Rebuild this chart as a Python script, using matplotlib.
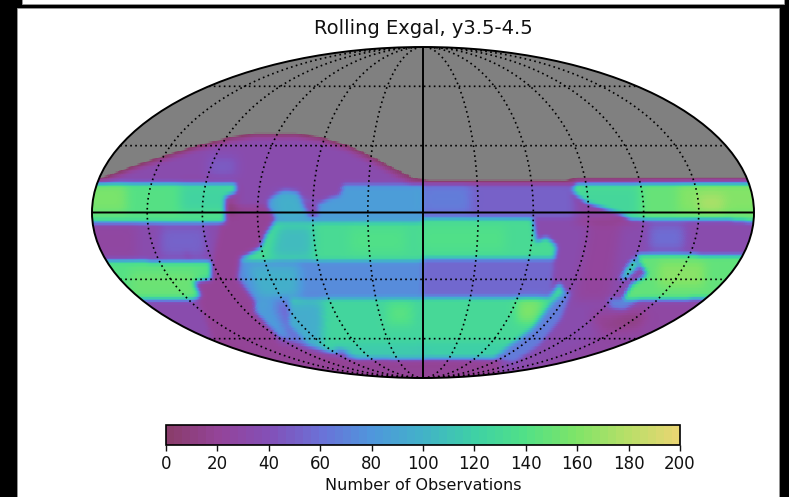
#!/usr/bin/env python3
"""Rolling Exgal y3.5-4.5 sky map, Mollweide, number of observations."""

import matplotlib
matplotlib.use('Agg')

import numpy as np
import matplotlib.pyplot as plt
from matplotlib.cm import ScalarMappable
from matplotlib.colors import LinearSegmentedColormap, Normalize
from matplotlib.patches import Rectangle
from matplotlib.path import Path

W, H = 789, 497

TITLE = "Rolling Exgal, y3.5-4.5"
CBAR_LABEL = "Number of Observations"
CBAR_TICKS = [0, 20, 40, 60, 80, 100, 120, 140, 160, 180, 200]
MERIDIANS_DEG = [-150, -120, -90, -60, -30, 30, 60, 90, 120, 150]
PARALLELS_DEG = [-60, -30, 30, 60]

# colour of the bar at given counts
CMAP_COUNTS = [0, 20, 40, 60, 80, 100, 120, 140, 160, 180, 200]
CMAP_COLORS = ["#8a3d6c", "#94449a", "#8350b8", "#6a72d8", "#4f97dc", "#42b2c8",
               "#3ed0a6", "#50e088", "#7ee468", "#b6df68", "#e8d672"]
NO_DATA_VALUE = -20
NO_DATA_COLOR = "#808080"

# Footprints on the map plane (map px, ellipse centre 423,212.5), painted in order
RIM = [(85, 184), (100, 178), (130, 167), (160, 157), (195, 146), (230, 137), (257, 133),
       (293, 133), (320, 137), (347, 145), (373, 157), (397, 170), (413, 178), (425, 180),
       (500, 180), (565, 181), (575, 178), (760, 177), (760, 382), (85, 382)]
INTERIOR = [(85, 192), (130, 172), (160, 162), (195, 151), (230, 142), (257, 138), (293, 138),
            (320, 142), (345, 150), (370, 162), (393, 175), (410, 184), (425, 185), (500, 185),
            (570, 185), (760, 182), (760, 382), (85, 382)]
LEFT_EDGE_MAROON = [(224, 205), (268, 205), (275, 218), (262, 250), (255, 300), (280, 345), (345, 360),
                    (500, 360), (500, 382), (300, 382), (215, 345), (198, 302), (195, 285), (212, 262)]
LEFT_NOTCH = [(183, 250), (188, 250), (192, 262), (186, 262)]
LEFT_TOP_BAND = [(85, 183), (235, 183), (235, 192), (225, 197), (224, 222), (85, 222)]
LEFT_LOW_BAND = [(85, 260), (210, 262), (210, 279), (193, 282), (200, 296), (193, 299), (85, 299)]

CENTRE_LEFT = [(343, 184), (425, 184), (425, 360), (357, 358), (343, 355), (307, 347), (280, 337),
               (267, 325), (255, 312), (255, 302), (237, 278), (240, 258), (260, 248), (265, 235),
               (275, 218), (267, 207), (268, 200), (275, 195), (283, 190), (297, 192), (300, 198),
               (320, 203), (330, 198), (340, 195)]
CENTRE_HOLE = [(300, 199), (318, 203), (317, 216), (308, 216)]
BAND_A = [(275, 222), (425, 222), (425, 260), (240, 260), (260, 248), (265, 235)]
GAP_LEFT = [(240, 260), (425, 260), (425, 298), (255, 302), (237, 278)]
BAND_B = [(290, 298), (425, 298), (425, 358), (357, 358), (343, 355), (310, 345), (290, 325)]
BOTTOM_SLIVER = [(335, 348), (350, 352), (343, 356)]

RIGHT_TOP = [(423, 184), (572, 184), (572, 195), (585, 205), (620, 218), (423, 218)]
RIGHT_GREEN_TOP = [(577, 183), (760, 183), (760, 222), (720, 219), (633, 220), (623, 215),
                   (600, 207), (587, 203), (578, 196), (573, 190)]
RIGHT_LOW_BAND = [(637, 254), (760, 256), (760, 298), (623, 300), (632, 285), (648, 274), (640, 262)]
RIGHT_LOW_SLIVER = [(634, 258), (640, 265), (628, 277), (621, 280), (627, 268)]
RIGHT_BLUE_KNOT = [(608, 298), (640, 300), (625, 310), (612, 308)]
FRINGE = [(555, 290), (572, 292), (562, 318), (540, 345), (515, 362), (495, 358)]
BAND_C = [(423, 218), (533, 218), (537, 242), (547, 237), (557, 247), (555, 258), (423, 258)]
GAP_RIGHT = [(423, 258), (555, 258), (552, 297), (423, 297)]
BAND_D = [(423, 297), (550, 298), (560, 283), (565, 292), (553, 302), (533, 328), (507, 348),
          (495, 358), (423, 358)]

REGIONS = [
    (RIM, 12), (INTERIOR, 33), (LEFT_EDGE_MAROON, 19), (LEFT_NOTCH, 28),
    (LEFT_TOP_BAND, 142), (LEFT_LOW_BAND, 142),
    (CENTRE_LEFT, 84), (CENTRE_HOLE, 35),
    (BAND_A, 132), (GAP_LEFT, 74), (BAND_B, 126), (BOTTOM_SLIVER, 60),
    (RIGHT_TOP, 50), (RIGHT_GREEN_TOP, 150),
    (RIGHT_LOW_BAND, 148), (RIGHT_LOW_SLIVER, 122), (RIGHT_BLUE_KNOT, 70),
    (FRINGE, 66), (GAP_RIGHT, 54), (BAND_C, 132), (BAND_D, 130),
]

# Softer changes of the count inside the footprints
NORTH_SPOT = [(208, 156), (236, 156), (236, 176), (208, 176)]
LOWER_LEFT = [(150, 335), (215, 345), (300, 382), (240, 382)]
MID_LEFT_FAR = [(85, 224), (135, 224), (135, 258), (85, 258)]
MID_LEFT_NEAR = [(160, 226), (205, 226), (205, 256), (160, 256)]
LEFT_TOP_FAR = [(85, 183), (125, 183), (125, 212), (85, 212)]
LEFT_TOP_NEAR = [(180, 183), (235, 183), (235, 212), (180, 212)]
LEFT_LOW_GREEN = [(130, 270), (195, 270), (195, 296), (130, 296)]
CENTRE_TEAL = [(272, 192), (298, 192), (310, 222), (278, 222)]
BAND_A_LEFT = [(278, 224), (312, 224), (312, 258), (270, 258)]
BAND_A_LIGHT = [(350, 228), (405, 228), (405, 252), (350, 252)]
GAP_TEAL = [(246, 264), (298, 264), (298, 298), (258, 298)]
BAND_B_LEFT = [(272, 300), (322, 300), (322, 350), (290, 340)]
BAND_B_SPOT = [(388, 302), (412, 302), (412, 324), (388, 324)]
BAND_B_LOWER = [(330, 344), (425, 344), (425, 358), (330, 358)]
RIGHT_TOP_BLUE = [(423, 184), (470, 184), (470, 213), (423, 213)]
RIGHT_TOP_NEAR = [(577, 183), (640, 183), (640, 222), (577, 222)]
RIGHT_TOP_FAR = [(680, 183), (760, 183), (760, 212), (680, 212)]
RIGHT_TOP_SPOT = [(700, 194), (724, 194), (724, 212), (700, 212)]
RIGHT_LOW_SPOT = [(660, 262), (705, 262), (705, 286), (660, 286)]
RIGHT_MID_SPOT = [(650, 224), (685, 224), (685, 250), (650, 250)]
RIGHT_MID_MAROON = [(590, 222), (622, 222), (610, 300), (575, 300)]
RIGHT_LOW_MAROON = [(590, 312), (650, 312), (640, 328), (600, 332)]
RIGHT_RIM = [(640, 302), (760, 302), (640, 360), (560, 382), (500, 382), (580, 350)]
BAND_C_LIGHT = [(423, 226), (505, 226), (505, 250), (423, 250)]
BAND_D_SPOT = [(518, 298), (546, 298), (536, 322), (518, 322)]
BAND_D_LOWER = [(423, 342), (515, 342), (495, 358), (423, 358)]

TINTS = [
    (NORTH_SPOT, 14), (LOWER_LEFT, -12), (MID_LEFT_FAR, -8), (MID_LEFT_NEAR, 18),
    (LEFT_TOP_FAR, 16), (LEFT_TOP_NEAR, -18), (LEFT_LOW_GREEN, 10),
    (CENTRE_TEAL, 14), (BAND_A_LEFT, -26), (BAND_A_LIGHT, 8), (GAP_TEAL, 24),
    (BAND_B_LEFT, -30), (BAND_B_SPOT, 18), (BAND_B_LOWER, -12),
    (RIGHT_TOP_BLUE, 16), (RIGHT_TOP_NEAR, -22), (RIGHT_TOP_FAR, 12), (RIGHT_TOP_SPOT, 14),
    (RIGHT_LOW_SPOT, 16), (RIGHT_MID_SPOT, 24), (RIGHT_MID_MAROON, -11),
    (RIGHT_LOW_MAROON, -16), (RIGHT_RIM, -7), (BAND_C_LIGHT, 8),
    (BAND_D_SPOT, 30), (BAND_D_LOWER, -12),
]


def blur(img, sigma):
    half = int(3 * sigma)
    kernel = np.exp(-0.5 * (np.arange(-half, half + 1) / sigma) ** 2)
    kernel /= kernel.sum()
    img = np.apply_along_axis(lambda r: np.convolve(r, kernel, mode="same"), 0, img)
    return np.apply_along_axis(lambda r: np.convolve(r, kernel, mode="same"), 1, img)


def paint_sky():
    xx, yy = np.meshgrid(np.arange(W), np.arange(H))
    pts = np.c_[xx.ravel(), yy.ravel()]
    sky = np.full(xx.shape, float(NO_DATA_VALUE))
    for outline, value in REGIONS:
        sky[Path(outline).contains_points(pts).reshape(xx.shape)] = value
    tint = np.zeros(xx.shape)
    for outline, delta in TINTS:
        tint[Path(outline).contains_points(pts).reshape(xx.shape)] += delta
    # the reference is soft at footprint edges
    sky = blur(sky, 2.4)
    tint = blur(tint, 5.0)
    inside = sky > 8
    sky[inside] = np.maximum(sky[inside] + tint[inside], 6)
    return sky


def box(x0, y0, x1, y1):
    return [x0 / W, 1 - y1 / H, (x1 - x0) / W, (y1 - y0) / H]


def main():
    plt.rcParams["font.family"] = "DejaVu Sans"
    fig = plt.figure(figsize=(W / 100, H / 100), dpi=100, facecolor="black")

    bg = fig.add_axes([0, 0, 1, 1], zorder=0)
    bg.set_xlim(0, W); bg.set_ylim(H, 0); bg.axis("off")
    bg.add_patch(Rectangle((22, -3), 762, 7, fc="white", ec="#999999", lw=0.6))
    bg.add_patch(Rectangle((17, 8), 762, 492, fc="white", ec="#999999", lw=0.6))
    bg.text(423, 28, TITLE, fontsize=14, ha="center", va="center", color="#111111")

    bar_cmap = LinearSegmentedColormap.from_list(
        "bar", [(c / 200, col) for c, col in zip(CMAP_COUNTS, CMAP_COLORS)], N=64)
    span = 200 - NO_DATA_VALUE
    nodes = [(0, NO_DATA_COLOR), (12 / span, NO_DATA_COLOR)]
    nodes += [((c - NO_DATA_VALUE) / span, col) for c, col in zip(CMAP_COUNTS, CMAP_COLORS)]
    sky_cmap = LinearSegmentedColormap.from_list("sky", nodes, N=512)

    ax = fig.add_axes(box(91, 47, 755, 378), projection="mollweide", zorder=1)
    ax.patch.set_alpha(0)

    sky = paint_sky()
    lon_e = np.linspace(-np.pi, np.pi, 1001)
    lat_e = np.linspace(-np.pi / 2, np.pi / 2, 501)
    lon_c, lat_c = np.meshgrid(0.5 * (lon_e[1:] + lon_e[:-1]), 0.5 * (lat_e[1:] + lat_e[:-1]))
    plane = ax.transProjection.transform(np.c_[lon_c.ravel(), lat_c.ravel()])
    col = np.clip(np.rint(423 + plane[:, 0] / (2 * np.sqrt(2)) * 332).astype(int), 0, W - 1)
    row = np.clip(np.rint(212.5 - plane[:, 1] / np.sqrt(2) * 165.5).astype(int), 0, H - 1)
    counts = sky[row, col].reshape(lon_c.shape)
    ax.pcolormesh(lon_e, lat_e, counts, cmap=sky_cmap, vmin=NO_DATA_VALUE, vmax=200,
                  shading="flat", rasterized=True, zorder=1)

    ax.grid(False)
    ax.set_xticklabels([]); ax.set_yticklabels([])
    t = np.linspace(-np.pi / 2, np.pi / 2, 400)
    s = np.linspace(-np.pi, np.pi, 400)
    dots = (0, (1, 2))
    for m in MERIDIANS_DEG:
        ax.plot(np.full_like(t, np.radians(m)), t, color="black", lw=1.2, ls=dots, zorder=3)
    for p in PARALLELS_DEG:
        ax.plot(s, np.full_like(s, np.radians(p)), color="black", lw=1.2, ls=dots, zorder=3)
    ax.plot(np.zeros_like(t), t, color="black", lw=1.4, zorder=4)
    ax.plot(s, np.zeros_like(s), color="black", lw=1.4, zorder=4)
    for sp in ax.spines.values():
        sp.set_linewidth(1.4)
        sp.set_edgecolor("black")

    cax = fig.add_axes(box(166, 425, 680, 445), zorder=2)
    cb = fig.colorbar(ScalarMappable(norm=Normalize(0, 200), cmap=bar_cmap), cax=cax,
                      orientation="horizontal")
    cb.set_ticks(CBAR_TICKS)
    cb.ax.tick_params(labelsize=12, length=4.5, width=1, pad=3, colors="#111111")
    cb.set_label(CBAR_LABEL, fontsize=11.5, labelpad=3, color="#111111")
    cb.outline.set_linewidth(1.2)

    fig.savefig("out.png", dpi=100, facecolor="black")
    plt.close(fig)


if __name__ == "__main__":
    main()
